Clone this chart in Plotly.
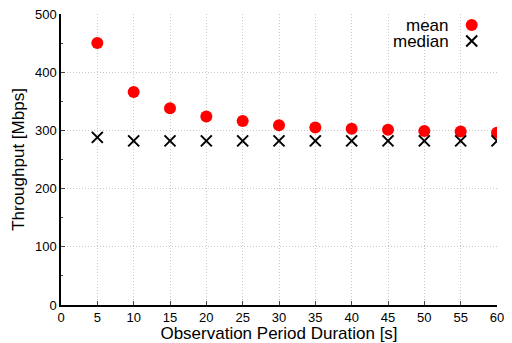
import plotly.graph_objects as go

durations = [5, 10, 15, 20, 25, 30, 35, 40, 45, 50, 55, 60]
mean_tput = [450, 366, 338, 324, 316, 309, 305, 303, 301, 299, 298, 296]
median_tput = [288, 282, 282, 282, 282, 282, 282, 282, 282, 282, 282, 282]
legend_names = ["mean", "median"]

FONT = "Liberation Sans, Arial, Helvetica, sans-serif"

fig = go.Figure()
fig.add_trace(go.Scatter(x=durations, y=mean_tput, mode="markers",
                         marker=dict(symbol="circle", size=12, color="#ff0000"),
                         showlegend=False))
fig.add_trace(go.Scatter(x=durations, y=median_tput, mode="markers",
                         marker=dict(symbol="x-thin", size=11, color="black",
                                     line=dict(color="black", width=2)),
                         showlegend=False))

# legend (symbol to the right of text) on an overlay axis
leg_y = [0.962, 0.907]
leg_mark_x = 0.942
leg_text_x = 0.895
fig.add_trace(go.Scatter(x=[leg_mark_x], y=[leg_y[0]], mode="markers", xaxis="x2", yaxis="y2",
                         marker=dict(symbol="circle", size=12, color="#ff0000"),
                         showlegend=False, hoverinfo="skip"))
fig.add_trace(go.Scatter(x=[leg_mark_x], y=[leg_y[1]], mode="markers", xaxis="x2", yaxis="y2",
                         marker=dict(symbol="x-thin", size=11, color="black",
                                     line=dict(color="black", width=2)),
                         showlegend=False, hoverinfo="skip"))
for name, yy in zip(legend_names, leg_y):
    fig.add_annotation(x=leg_text_x, y=yy, xref="x2", yref="y2", text=name, showarrow=False,
                       xanchor="right", yanchor="middle",
                       font=dict(family=FONT, size=17, color="black"))

fig.update_layout(
    width=512, height=343,
    margin=dict(l=61, r=15, t=14, b=38),
    paper_bgcolor="white", plot_bgcolor="white",
    font=dict(family=FONT, size=13, color="black"),
    xaxis=dict(range=[0, 60], tickvals=list(range(0, 61, 5)), ticks="inside", ticklen=4,
               automargin=False,
               showline=True, linecolor="black", linewidth=1.5, mirror=False,
               showgrid=True, gridcolor="#c8c8c8", griddash="1px,2px", gridwidth=1,
               zeroline=False, tickfont=dict(size=13),
               title=dict(text="Observation Period Duration [s]", font=dict(size=17), standoff=0)),
    yaxis=dict(range=[0, 500], tickvals=list(range(0, 501, 100)), ticks="inside", ticklen=4,
               automargin=False,
               minor=dict(ticks="inside", ticklen=2, dtick=50, showgrid=False),
               showline=True, linecolor="black", linewidth=1.5, mirror=False,
               showgrid=True, gridcolor="#c8c8c8", griddash="1px,2px", gridwidth=1,
               zeroline=False, tickfont=dict(size=13),
               title=dict(text="Throughput [Mbps]", font=dict(size=17), standoff=6)),
    xaxis2=dict(range=[0, 1], overlaying="x", visible=False, fixedrange=True),
    yaxis2=dict(range=[0, 1], overlaying="y", visible=False, fixedrange=True),
)

fig.write_html(
    "out.html",
    config={"displayModeBar": False},
    post_script=(
        "document.documentElement.style.margin='0px';"
        "document.documentElement.style.overflow='hidden';"
        "document.body.style.margin='0px';"
        "document.body.style.overflow='hidden';"
    ),
)
